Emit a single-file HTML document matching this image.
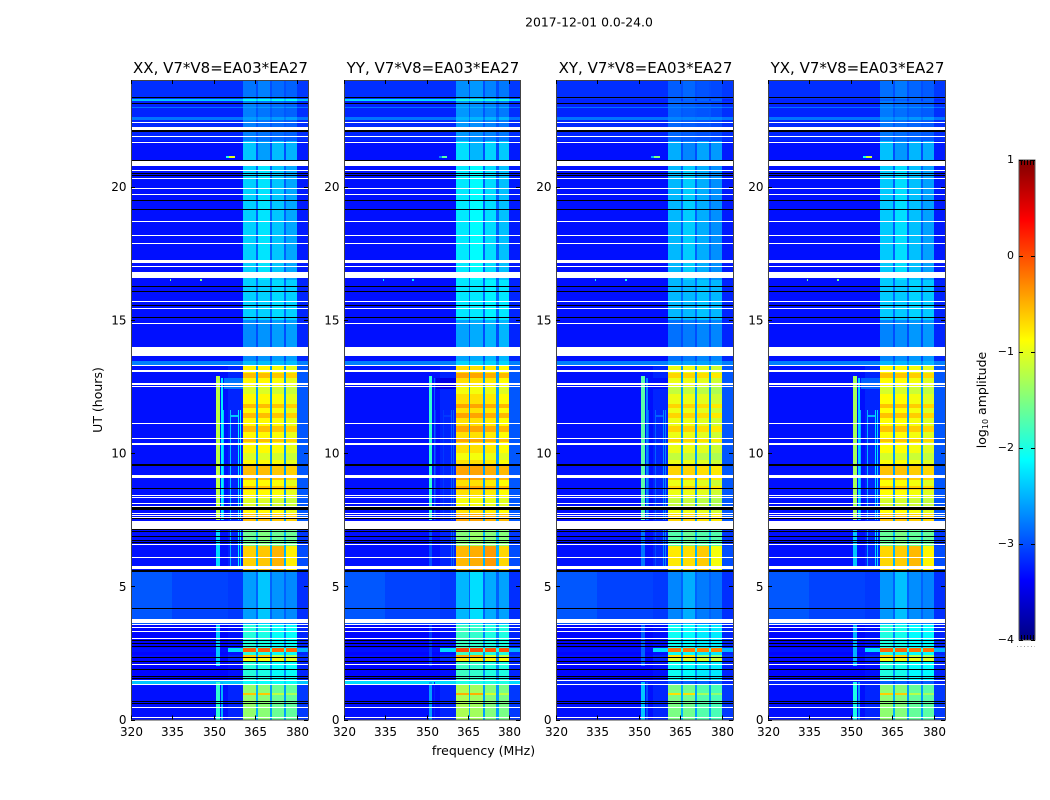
<!DOCTYPE html>
<html>
<head>
<meta charset="utf-8">
<title>2017-12-01 0.0-24.0</title>
<style>
html,body{margin:0;padding:0;background:#fff;}
svg{display:block;}
text{font-family:"DejaVu Sans","Liberation Sans",sans-serif;fill:#000;}
.tick{font-size:12px;}
.title{font-size:15px;}
.label{font-size:12.5px;}
</style>
</head>
<body>
<svg id="figure" xmlns="http://www.w3.org/2000/svg" width="1050" height="800" viewBox="0 0 1050 800">
<rect width="1050" height="800" fill="#fff"/>
<text x="589" y="26.5" text-anchor="middle" style="font-size:12.4px">2017-12-01 0.0-24.0</text>
<text class="label" x="483.5" y="755" text-anchor="middle">frequency (MHz)</text>
<text class="label" transform="translate(102,400) rotate(-90)" text-anchor="middle">UT (hours)</text>
<text class="label" transform="translate(986,400) rotate(-90)" text-anchor="middle">log<tspan font-size="8" dy="2">10</tspan><tspan dy="-2"> amplitude</tspan></text>
<defs id="defs"></defs>
<g id="panels"></g>
<g id="colorbar"></g>
</svg>
<script>
// Axis labels
const panelNames = ["XX, V7*V8=EA03*EA27", "YY, V7*V8=EA03*EA27", "XY, V7*V8=EA03*EA27", "YX, V7*V8=EA03*EA27"];
const freqTicks = [320, 335, 350, 365, 380];
const hourTicks = [0, 5, 10, 15, 20];
const colorTicks = [1, 0, -1, -2, -3, -4];

// Frequency bins (MHz)
const freqEdges = [320, 335, 355, 360.6, 365.3, 365.8, 370.4, 371.1, 375.4, 376.2, 380.1, 384];

// log10 amplitude per frequency bin, one spectrum per observing regime
const specA  = [-3.3, -3.3, -3.2, -1.4, -2.5, -1.45, -2.6, -1.6, -2.6, -1.65, -3.1];
const specO  = [-3.3, -3.3, -3.2, -0.6, -2.5, -0.6, -2.6, -1.2, -2.6, -1.3, -3.1];
const specT  = [-2.4, -2.4, -2.4, -2.1, -2.3, -2.1, -2.3, -2.1, -2.3, -2.1, -2.4];
const specB  = [-3.35, -3.35, -3.3, -1.95, -2.7, -2.0, -2.7, -2.1, -2.7, -2.1, -3.2];
const specY  = [-3.35, -3.35, -3.2, -0.9, -2.7, -0.9, -2.7, -0.95, -2.7, -1.0, -3.2];
const specR  = [-3.3, -3.3, -2.3, -0.1, -2.0, -0.1, -2.0, -0.15, -2.0, -0.15, -2.5];
const specC  = [-2.95, -3.05, -3.1, -2.6, -2.9, -2.4, -2.9, -2.65, -2.9, -2.7, -3.15];
const specD  = [-3.3, -3.3, -3.2, -0.65, -2.5, -0.6, -2.5, -0.5, -2.5, -0.8, -3.0];
const specD2 = [-3.3, -3.3, -3.2, -1.6, -2.5, -1.5, -2.5, -1.6, -2.5, -1.6, -3.1];
const specE  = [-3.3, -3.3, -3.2, -0.85, -2.6, -0.85, -2.6, -0.9, -2.6, -1.0, -2.95];
const specE2 = [-3.3, -3.3, -3.2, -0.55, -2.6, -0.55, -2.6, -0.6, -2.6, -0.65, -2.95];
const specE3 = [-3.3, -3.3, -3.2, -1.05, -2.6, -1.05, -2.6, -1.1, -2.6, -1.15, -2.95];
const specL  = [-2.75, -2.75, -2.75, -2.45, -2.7, -2.45, -2.7, -2.45, -2.7, -2.45, -2.75];
const specF  = [-3.3, -3.3, -3.3, -2.7, -3.0, -2.65, -3.0, -2.6, -3.0, -2.6, -3.2];
const specG2 = [-3.3, -3.3, -3.3, -2.35, -2.85, -2.35, -2.85, -2.3, -2.85, -2.35, -3.2];
const specG  = [-3.3, -3.3, -3.3, -2.35, -2.9, -2.25, -2.9, -2.4, -2.9, -2.55, -3.25];
const specH2 = [-3.3, -3.3, -3.3, -2.4, -3.0, -2.6, -3.0, -2.45, -3.0, -2.5, -3.25];
const specH  = [-3.2, -3.2, -3.2, -2.75, -2.95, -2.8, -2.95, -2.85, -2.95, -2.9, -3.15];
const specP  = [-2.8, -2.8, -2.8, -2.6, -2.75, -2.6, -2.75, -2.6, -2.75, -2.6, -2.8];
const specI  = [-3.15, -3.15, -3.15, -2.8, -3.0, -2.75, -3.0, -2.85, -3.0, -2.9, -3.1];

// Regime timeline: start hour of each row and its spectrum
const rowStarts = [0, 0.93, 0.99, 1.33, 1.44, 2.2, 2.3, 2.35, 2.42, 2.55, 2.68, 3.6, 5.6, 6.5, 7.15,
  7.46, 7.7, 8.0, 8.3, 8.6, 8.75, 9.0, 9.5, 9.75, 10.0, 10.4, 10.55, 10.8, 11.0, 11.3, 11.5, 11.7, 11.85,
  12.2, 12.5, 12.8, 13.0, 13.31, 13.46, 14.0, 15.0, 16.5, 20.8, 21.7, 22.5, 22.6, 22.95, 23.0, 23.2, 23.3];
const rowSpectra = ["A", "O", "A", "T", "B", "Y", "B", "O", "B", "R", "B", "C", "D", "D2", "D2",
  "E2", "E", "E3", "E", "E2", "E", "E2", "E", "E3", "E", "E2", "E", "E2", "E", "E2", "E", "E2", "E",
  "E3", "E", "E2", "E", "L", "F", "F", "G2", "G", "H2", "H", "P", "H", "P", "H", "T", "I"];

// Narrow interference: low MHz, high MHz, start hour, end hour, log10 amplitude
const spikeLow   = [350.8, 350.8, 350.8, 350.8, 352.6, 352.6, 353.2, 355.9, 355.9, 358.8, 358.8, 359.5, 359.5, 355.9, 353.6, 354.5, 355.6, 334, 344.8];
const spikeHigh  = [352, 352, 352, 352, 353.2, 353.2, 353.6, 356.3, 356.3, 359.2, 359.2, 359.9, 359.9, 358.8, 360.6, 355.6, 357.6, 334.6, 345.6];
const spikeStart = [7.5, 5.7, 0, 2.0, 7.5, 0, 7.5, 5.7, 7.5, 5.7, 7.5, 5.7, 7.5, 11.35, 12.4, 21.08, 21.08, 16.47, 16.47];
const spikeEnd   = [12.9, 7.1, 1.4, 3.55, 12.8, 1.4, 11.6, 7.1, 11.6, 7.1, 11.6, 7.1, 11.6, 11.42, 12.8, 21.13, 21.13, 16.52, 16.52];
const spikeAmp   = [-1.2, -2.3, -1.9, -2.4, -2.2, -2.5, -2.4, -2.5, -2.4, -2.2, -2.2, -2.2, -2.2, -2.4, -2.8, -2.0, -1.0, -1.5, -1.5];

// Per-polarisation adjustments, in log10 amplitude
const bandShift  = [0, 0.12, -0.12, -0.03];
const spikeShift = [0, -0.7, -0.5, -0.1];
const tealShift  = [0, 0.1, -0.8, -0.8];

// Flagged time ranges rendered as white (no data): start hour, end hour
const whiteStart = [22.38, 22.14, 21.85, 21.64, 20.77, 20.59, 20.29, 19.91, 19.70, 18.67, 18.15, 17.85, 17.22, 17.15, 16.97, 16.57, 15.66, 15.40, 14.85, 13.64, 13.28, 13.06, 12.57, 12.49, 11.09, 10.53, 10.32, 9.15, 9.08, 8.40, 8.32, 8.09, 7.99, 7.72, 7.62, 7.56, 7.15, 6.55, 6.07, 5.65, 3.63, 3.53, 3.44, 3.30, 3.03, 2.05, 1.46, 1.28, 0.44, 0.06];
const whiteEnd   = [22.42, 22.24, 21.89, 21.68, 20.99, 20.63, 20.33, 19.95, 19.74, 18.71, 18.19, 17.89, 17.26, 17.19, 17.01, 16.79, 15.70, 15.44, 14.89, 13.97, 13.32, 13.10, 12.61, 12.53, 11.13, 10.57, 10.36, 9.19, 9.12, 8.44, 8.36, 8.13, 8.03, 7.76, 7.66, 7.60, 7.46, 6.59, 6.11, 5.76, 3.76, 3.57, 3.48, 3.34, 3.07, 2.09, 1.50, 1.32, 0.48, 0.10];

// Dropped time ranges rendered as black: start hour, end hour
const blackStart = [23.34, 23.10, 22.05, 20.97, 20.48, 20.41, 19.45, 19.12, 16.23, 16.03, 15.53, 15.07, 9.53, 8.66, 7.93, 7.88, 7.54, 7.11, 7.02, 6.84, 6.71, 6.63, 5.55, 4.15, 2.94, 2.84, 2.71, 2.30, 2.15, 1.86, 1.58, 1.52, 0.66, 0.58];
const blackEnd   = [23.38, 23.14, 22.11, 21.00, 20.52, 20.45, 19.49, 19.16, 16.27, 16.07, 15.57, 15.11, 9.57, 8.70, 7.97, 7.92, 7.58, 7.15, 7.06, 6.88, 6.75, 6.67, 5.61, 4.19, 2.98, 2.88, 2.75, 2.34, 2.19, 1.90, 1.62, 1.56, 0.70, 0.62];

const spectraByName = {A: specA, O: specO, T: specT, B: specB, Y: specY, R: specR, C: specC, D: specD, D2: specD2,
  E: specE, E2: specE2, E3: specE3, L: specL, F: specF, G2: specG2, G: specG, H2: specH2, H: specH, P: specP, I: specI};

const NS = "http://www.w3.org/2000/svg";
const panelLeft = [131, 344, 556, 768];
const panelWidth = [177, 176, 177, 177];
const plotTop = 80, plotBottom = 719.5;
const hourMax = 24, freqMin = 320, freqMax = 384;
const ampMin = -4, ampMax = 1;
const cbLeft = 1019, cbRight = 1035, cbTop = 160, cbBottom = 640;

function yHour(h) { return plotBottom - (h / hourMax) * (plotBottom - plotTop); }
function xFreq(f, p) { return panelLeft[p] + ((f - freqMin) / (freqMax - freqMin)) * panelWidth[p]; }
function yAmp(a) { return cbBottom - ((a - ampMin) / (ampMax - ampMin)) * (cbBottom - cbTop); }

// Snap an hour range to whole pixel rows so thin flagged rows stay solid.
function rowBox(h0, h1) {
  const top = Math.round(yHour(h1));
  const bottom = Math.round(yHour(h0));
  return {y: top, height: Math.max(1, bottom - top)};
}
function colBox(f0, f1, p) {
  const left = Math.round(xFreq(f0, p));
  const right = Math.round(xFreq(f1, p));
  return {x: left, width: Math.max(1, right - left)};
}

function jetChannel(t, c) {
  return Math.max(0, Math.min(1, 1.5 - Math.abs(4 * t - c)));
}
function jet(a) {
  const t = Math.max(0, Math.min(1, (a - ampMin) / (ampMax - ampMin)));
  const r = Math.round(255 * jetChannel(t, 3));
  const g = Math.round(255 * jetChannel(t, 2));
  const b = Math.round(255 * jetChannel(t, 1));
  return "rgb(" + r + "," + g + "," + b + ")";
}
function mk(tag, attrs, parent) {
  const el = document.createElementNS(NS, tag);
  for (const k in attrs) el.setAttribute(k, attrs[k]);
  parent.appendChild(el);
  return el;
}

const panelsRoot = document.getElementById("panels");
panelNames.forEach(function (name, p) {
  const g = mk("g", {"shape-rendering": "crispEdges"}, panelsRoot);
  
  

  rowStarts.forEach(function (start, r) {
    const end = r + 1 < rowStarts.length ? rowStarts[r + 1] : hourMax;
    const key = rowSpectra[r];
    const spectrum = spectraByName[key];
    const rb = rowBox(start, end);
    for (let c = 0; c + 1 < freqEdges.length; c++) {
      let amp = spectrum[c];
      const isBand = c >= 3 && c <= 9 && c % 2 === 1;
      if (key === "T") amp += tealShift[p];
      else if (isBand) amp += bandShift[p];
      const cb0 = colBox(freqEdges[c], freqEdges[c + 1], p);
      const cell = mk("rect", {x: cb0.x, y: rb.y, width: cb0.width, height: rb.height, fill: jet(amp)}, g);
      
      
    }
  });

  spikeLow.forEach(function (low, i) {
    const cs = colBox(low, spikeHigh[i], p);
    const rs = rowBox(spikeStart[i], spikeEnd[i]);
    const spike = mk("rect", {x: cs.x, y: rs.y, width: cs.width, height: rs.height, fill: jet(spikeAmp[i] + spikeShift[p])}, g);
    
    
  });

  whiteStart.forEach(function (s, i) {
    const rw = rowBox(s, whiteEnd[i]);
    const gap = mk("rect", {x: panelLeft[p], y: rw.y, width: panelWidth[p], height: rw.height, fill: "#fff"}, g);
    
    
  });
  blackStart.forEach(function (s, i) {
    const rk = rowBox(s, blackEnd[i]);
    const gap = mk("rect", {x: panelLeft[p], y: rk.y, width: panelWidth[p], height: rk.height, fill: "#000"}, g);
    
    
  });

  const frame = mk("rect", {x: panelLeft[p] + 0.5, y: plotTop + 0.5, width: panelWidth[p], height: plotBottom - plotTop, fill: "none", stroke: "#444", "stroke-width": 1}, g);
  
  

  freqTicks.forEach(function (f) {
    const x = Math.round(xFreq(f, p)) + 0.5;
    const tb = mk("line", {x1: x, x2: x, y1: plotBottom, y2: plotBottom - 4, stroke: "#000"}, g);
    
    
    const tt = mk("line", {x1: x, x2: x, y1: plotTop, y2: plotTop + 4, stroke: "#000"}, g);
    
    
    const lab = mk("text", {x: x, y: 736, "text-anchor": "middle", class: "tick"}, panelsRoot);
    
    
    lab.textContent = f;
  });
  hourTicks.forEach(function (h) {
    const y = Math.round(yHour(h)) + 0.5;
    const tl = mk("line", {x1: panelLeft[p], x2: panelLeft[p] + 4, y1: y, y2: y, stroke: "#000"}, g);
    
    
    const tr = mk("line", {x1: panelLeft[p] + panelWidth[p], x2: panelLeft[p] + panelWidth[p] - 4, y1: y, y2: y, stroke: "#000"}, g);
    
    
    const lab = mk("text", {x: panelLeft[p] - 4.5, y: yHour(h) + 4.5, "text-anchor": "end", class: "tick"}, panelsRoot);
    
    
    lab.textContent = h;
  });

  const title = mk("text", {x: panelLeft[p] + panelWidth[p] / 2 + 1, y: 73, "text-anchor": "middle", class: "title"}, panelsRoot);
  
  
  title.textContent = name;
});

// Colorbar
const defs = document.getElementById("defs");
const grad = mk("linearGradient", {id: "jetGrad", x1: 0, y1: 1, x2: 0, y2: 0}, defs);
for (let i = 0; i <= 40; i++) {
  const stop = mk("stop", {offset: i / 40, "stop-color": jet(ampMin + (ampMax - ampMin) * i / 40)}, grad);
  
  
}
const cb = document.getElementById("colorbar");
const cbFill = mk("rect", {x: cbLeft, y: cbTop, width: cbRight - cbLeft, height: cbBottom - cbTop, fill: "url(#jetGrad)", stroke: "#555", "stroke-width": 1, "shape-rendering": "crispEdges"}, cb);


colorTicks.forEach(function (a) {
  const y = Math.round(yAmp(a)) + 0.5;
  const t1 = mk("line", {x1: cbLeft, x2: cbLeft + 4, y1: y, y2: y, stroke: "#000"}, cb);
  
  
  const t2 = mk("line", {x1: cbRight, x2: cbRight - 4, y1: y, y2: y, stroke: "#000"}, cb);
  
  
  const lab = mk("text", {x: cbLeft - 5, y: yAmp(a) + 3, "text-anchor": "end", style: "font-size:11px"}, cb);
  
  
  lab.textContent = a < 0 ? "\u2212" + Math.abs(a) : String(a);
});
for (let x = cbLeft + 2; x < cbRight; x += 3) {
  const mt = mk("line", {x1: x + 0.5, x2: x + 0.5, y1: cbTop, y2: cbTop + 5, stroke: "#000"}, cb);
  
  
  const mb = mk("line", {x1: x + 0.5, x2: x + 0.5, y1: cbBottom, y2: cbBottom - 5, stroke: "#000"}, cb);
  
  
}
const dots = mk("line", {x1: 1017, x2: 1035, y1: 646.5, y2: 646.5, stroke: "#999", "stroke-width": 1, "stroke-dasharray": "1 2.5"}, cb);


</script>
</body>
</html>
